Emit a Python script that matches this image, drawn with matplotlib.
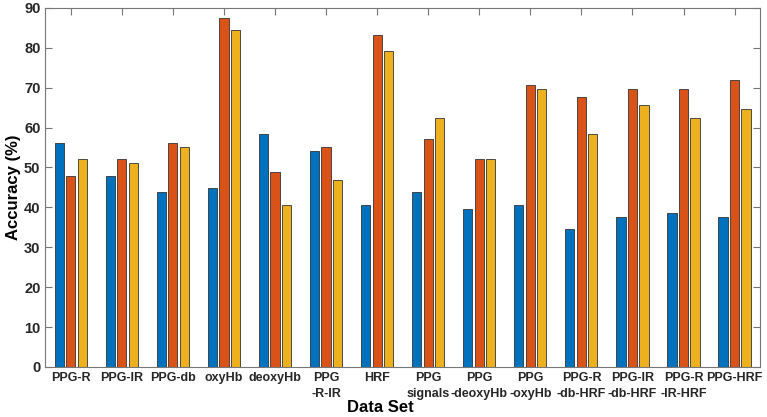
import numpy as np
import matplotlib.pyplot as plt

plt.rcParams['font.family'] = ['Liberation Sans', 'DejaVu Sans']
plt.rcParams['font.weight'] = 'bold'

labels = ['PPG-R', 'PPG-IR', 'PPG-db', 'oxyHb', 'deoxyHb', 'PPG\n-R-IR', 'HRF',
          'PPG\nsignals', 'PPG\n-deoxyHb', 'PPG\n-oxyHb', 'PPG-R\n-db-HRF',
          'PPG-IR\n-db-HRF', 'PPG-R\n-IR-HRF', 'PPG-HRF']
blue = [56.2, 47.9, 43.8, 44.8, 58.3, 54.2, 40.5, 43.8, 39.6, 40.5, 34.5, 37.5, 38.5, 37.5]
orange = [47.9, 52.1, 56.2, 87.5, 48.9, 55.2, 83.3, 57.2, 52.1, 70.8, 67.7, 69.8, 69.8, 71.9]
yellow = [52.1, 51.1, 55.2, 84.4, 40.6, 46.9, 79.2, 62.5, 52.1, 69.8, 58.3, 65.6, 62.5, 64.6]

fig = plt.figure(figsize=(7.67, 4.17), dpi=100)
ax = fig.add_axes([0.059, 0.12, 0.932, 0.861])

x = np.arange(1, len(labels) + 1)
w = 0.18
step = 0.225
for off, vals, col in [(-step, blue, '#0072BD'), (0, orange, '#D95319'), (step, yellow, '#EDB120')]:
    ax.bar(x + off, vals, width=w, color=col, edgecolor='#333333', linewidth=0.6, zorder=2)

ax.set_xlim(0.5, 14.5)
ax.set_ylim(0, 90)
ax.set_yticks(np.arange(0, 91, 10))
ax.set_xticks(x)
ax.set_xticklabels(labels, fontsize=9, fontweight='bold', color='#262626', linespacing=1.5, va='top')
ax.tick_params(axis='y', labelsize=10.5, labelcolor='#262626')
ax.tick_params(direction='in', length=5, width=0.8, color='#777777', top=True, right=True)
for lab in ax.get_yticklabels():
    lab.set_fontweight('bold')
for s in ax.spines.values():
    s.set_color('#777777')
    s.set_linewidth(0.8)

ax.set_xlabel('Data Set', fontsize=12, fontweight='bold')
ax.xaxis.set_label_coords(0.469, -0.093)
ax.set_ylabel('Accuracy (%)', fontsize=12, fontweight='bold', labelpad=2)

fig.savefig('out.png', dpi=100)
